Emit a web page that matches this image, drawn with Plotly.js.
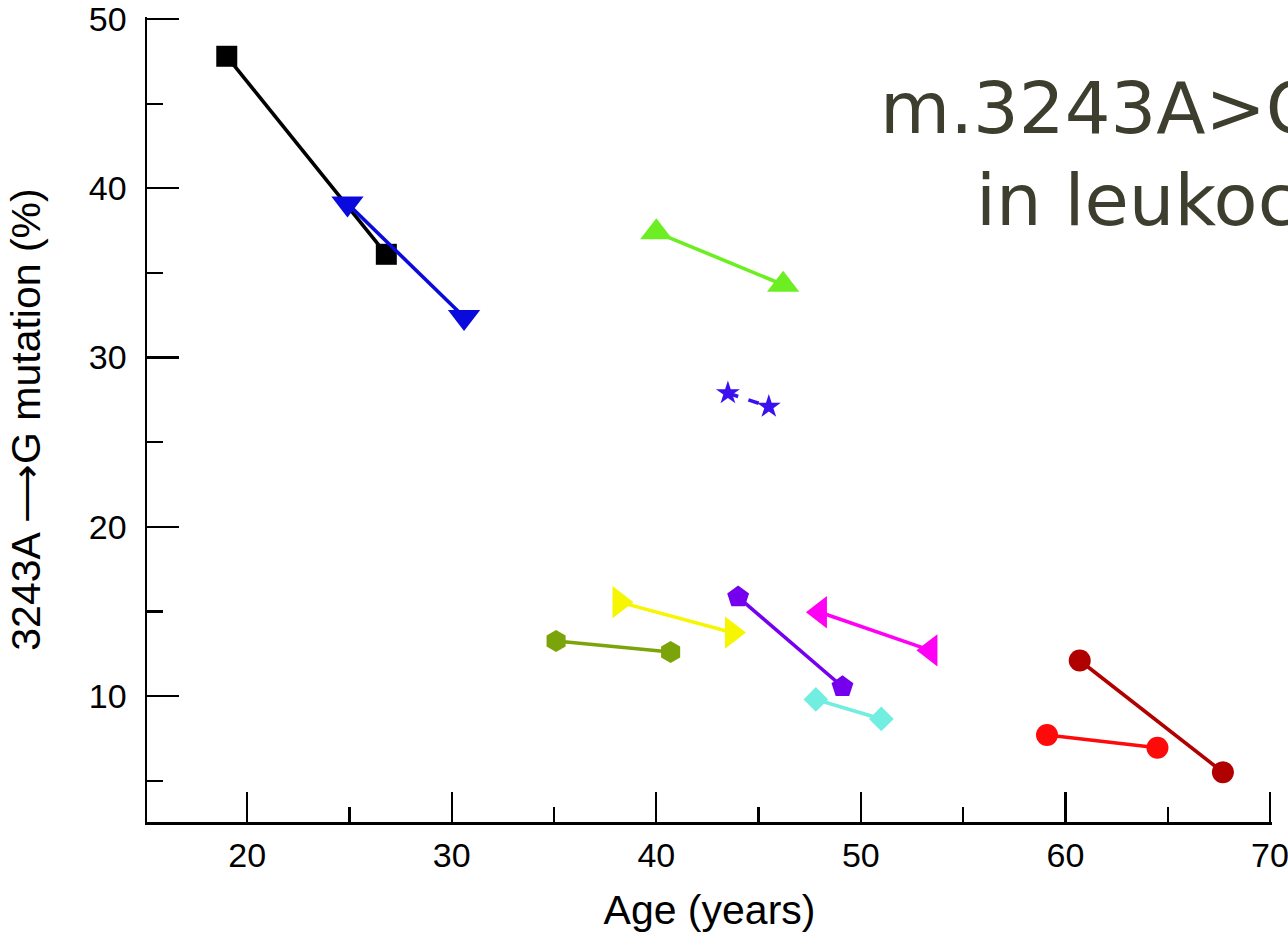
<!DOCTYPE html>
<html>
<head>
<meta charset="utf-8">
<script src="https://cdn.plot.ly/plotly-3.0.1.min.js"></script>
<style>html,body{margin:0;padding:0;background:#fff;}#chart{width:1288px;height:933px;}</style>
</head>
<body>
<div id="chart"></div>
<script>
// Age (years) and 3243A->G mutation level (%) at two time points, per individual
const age1  = [19.0, 26.8];  const mut1  = [47.8, 36.1];   // black squares
const age2  = [24.9, 30.6];  const mut2  = [39.1, 32.4];   // blue down-triangles
const age3  = [40.0, 46.2];  const mut3  = [37.4, 34.3];   // green up-triangles
const age4  = [43.5, 45.5];  const mut4  = [27.9, 27.1];   // blue stars (dashed)
const age5  = [35.1, 40.7];  const mut5  = [13.25, 12.6];  // olive hexagons
const age6  = [38.2, 43.7];  const mut6  = [15.55, 13.75]; // yellow right-triangles
const age7  = [44.0, 49.1];  const mut7  = [15.85, 10.55]; // purple pentagons
const age8  = [48.0, 53.4];  const mut8  = [14.95, 12.7];  // magenta left-triangles
const age9  = [47.8, 51.0];  const mut9  = [9.8, 8.65];    // cyan diamonds
const age10 = [59.1, 64.5];  const mut10 = [7.7, 6.95];    // red circles
const age11 = [60.7, 67.7];  const mut11 = [12.1, 5.5];    // dark red circles

const xTickVals = [20, 30, 40, 50, 60, 70];
const yTickVals = [10, 20, 30, 40, 50];
const titleLine1 = "m.3243A>G levels";
const titleLine2 = "in leukocytes";

const series = [
  {x: age1,  y: mut1,  color: "#000000", symbol: "square",         size: 21, dash: "solid"},
  {x: age2,  y: mut2,  color: "#0a0adc", symbol: "triangle-down",  size: 28, dash: "solid"},
  {x: age3,  y: mut3,  color: "#6cee22", symbol: "triangle-up",    size: 28, dash: "solid"},
  {x: age4,  y: mut4,  color: "#3a10f0", symbol: "star",           size: 18, dash: "dash"},
  {x: age5,  y: mut5,  color: "#7ba40a", symbol: "hexagon",        size: 22, dash: "solid"},
  {x: age6,  y: mut6,  color: "#f6f600", symbol: "triangle-right", size: 28, dash: "solid"},
  {x: age7,  y: mut7,  color: "#7400ee", symbol: "pentagon",       size: 23, dash: "solid"},
  {x: age8,  y: mut8,  color: "#ff00f4", symbol: "triangle-left",  size: 28, dash: "solid"},
  {x: age9,  y: mut9,  color: "#72eee0", symbol: "diamond",        size: 19, dash: "solid"},
  {x: age10, y: mut10, color: "#ff0a0a", symbol: "circle",         size: 22, dash: "solid"},
  {x: age11, y: mut11, color: "#b00000", symbol: "circle",         size: 22, dash: "solid"}
];

const traces = series.map(s => ({
  type: "scatter",
  mode: "lines+markers",
  x: s.x, y: s.y,
  line: {color: s.color, width: 3.6, dash: s.dash},
  marker: {color: s.color, symbol: s.symbol, size: s.size, line: {width: 0}},
  showlegend: false,
  cliponaxis: false
}));

const tickFont = {family: "Liberation Sans, Arial, sans-serif", size: 34, color: "#000"};
const titleFont = {family: "Liberation Sans, Arial, sans-serif", size: 41, color: "#000"};

const layout = {
  width: 1288, height: 933,
  margin: {l: 147, r: 16, t: 17, b: 111, autoexpand: false},
  paper_bgcolor: "#fff", plot_bgcolor: "#fff",
  showlegend: false,
  xaxis: {
    range: [15.1, 70.1], tickvals: xTickVals, ticks: "inside", ticklen: 30, tickwidth: 2.2, tickcolor: "#000",
    minor: {dtick: 5, tick0: 0, ticks: "inside", ticklen: 15, tickwidth: 2.2, tickcolor: "#000"},
    showline: true, linecolor: "#000", linewidth: 2.5, showgrid: false, zeroline: false,
    tickfont: tickFont, ticklabelstandoff: 2, ticklabeloverflow: "allow",
    title: {text: "Age (years)", font: titleFont, standoff: 24},
    automargin: false
  },
  yaxis: {
    range: [2.56, 50.12], tickvals: yTickVals, ticks: "inside", ticklen: 32, tickwidth: 2.2, tickcolor: "#000",
    minor: {dtick: 5, tick0: 0, ticks: "inside", ticklen: 16, tickwidth: 2.2, tickcolor: "#000"},
    showline: true, linecolor: "#000", linewidth: 2.5, showgrid: false, zeroline: false,
    tickfont: tickFont, ticklabelstandoff: 11, ticklabeloverflow: "allow",
    title: {text: "3243A \u27F6G mutation (%)", font: titleFont, standoff: 36},
    automargin: false
  },
  annotations: [
    {xref: "paper", yref: "paper", x: 0.650, y: 0.8865, xanchor: "left", yanchor: "middle",
     text: titleLine1, showarrow: false, font: {family: "DejaVu Sans", size: 72, color: "#3e3e2e"}},
    {xref: "paper", yref: "paper", x: 0.7355, y: 0.773, xanchor: "left", yanchor: "middle",
     text: titleLine2, showarrow: false, font: {family: "DejaVu Sans", size: 72, color: "#3e3e2e"}}
  ]
};

Plotly.newPlot("chart", traces, layout, {displayModeBar: false, staticPlot: true});
</script>
</body>
</html>
